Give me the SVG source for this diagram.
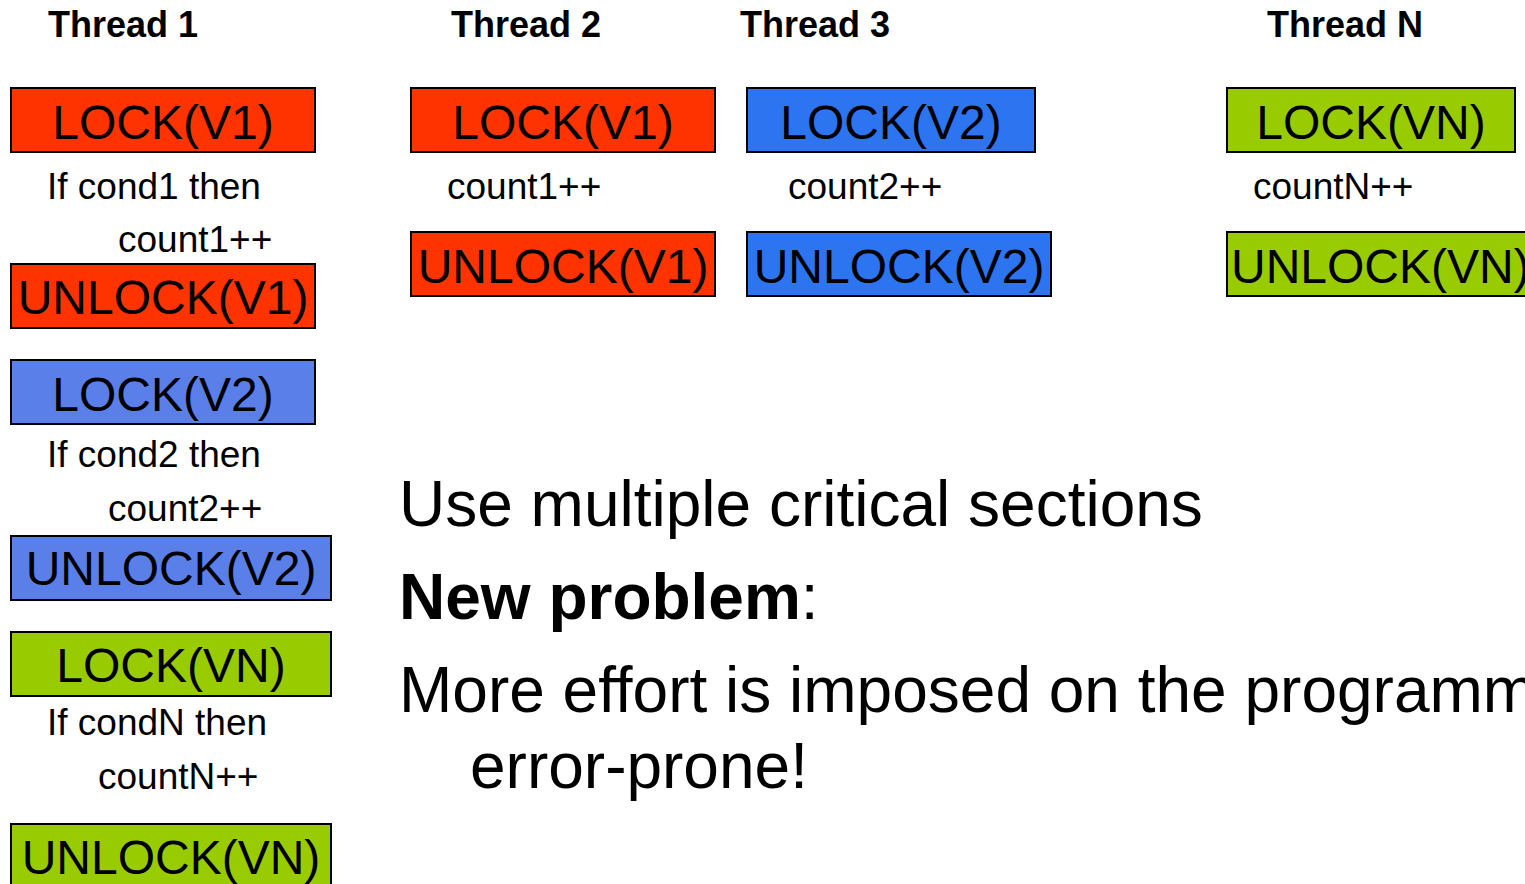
<svg xmlns="http://www.w3.org/2000/svg" width="1525" height="884" viewBox="0 0 1525 884">
<style>
  .box { stroke: #000; stroke-width: 2; }
  .red { fill: #FF3300; }
  .blue1 { fill: #5B7FE8; }
  .blue2 { fill: #2D74F0; }
  .green { fill: #99CC00; }
  .bt { font-family: "Liberation Sans", Arial, sans-serif; font-size: 48px; fill: #000; }
  .st { font-family: "Liberation Sans", Arial, sans-serif; font-size: 37px; fill: #000; }
  .title { font-family: "Liberation Sans", Arial, sans-serif; font-size: 36px; font-weight: bold; fill: #000; }
  .big { font-family: "Liberation Sans", Arial, sans-serif; font-size: 64px; fill: #000; }
</style>
<rect width="1525" height="884" fill="#fff"/>

<g id="titles">
  <text class="title" x="48" y="37">Thread 1</text>
  <text class="title" x="451" y="37">Thread 2</text>
  <text class="title" x="740" y="37">Thread 3</text>
  <text class="title" x="1267" y="37">Thread N</text>
</g>

<g id="t1-lock-v1"><rect class="box red" x="11" y="88" width="304" height="64"/><text class="bt" x="163" y="139" text-anchor="middle">LOCK(V1)</text></g>
<g id="t1-body1"><text class="st" x="47" y="199">If cond1 then</text><text class="st" x="118" y="252">count1++</text></g>
<g id="t1-unlock-v1"><rect class="box red" x="11" y="264" width="304" height="64"/><text class="bt" x="163" y="314" text-anchor="middle">UNLOCK(V1)</text></g>

<g id="t1-lock-v2"><rect class="box blue1" x="11" y="360" width="304" height="64"/><text class="bt" x="163" y="411" text-anchor="middle">LOCK(V2)</text></g>
<g id="t1-body2"><text class="st" x="47" y="467">If cond2 then</text><text class="st" x="108" y="521">count2++</text></g>
<g id="t1-unlock-v2"><rect class="box blue1" x="11" y="536" width="320" height="64"/><text class="bt" x="171" y="585" text-anchor="middle">UNLOCK(V2)</text></g>

<g id="t1-lock-vn"><rect class="box green" x="11" y="632" width="320" height="64"/><text class="bt" x="171" y="682" text-anchor="middle">LOCK(VN)</text></g>
<g id="t1-bodyn"><text class="st" x="47" y="735">If condN then</text><text class="st" x="98" y="789">countN++</text></g>
<g id="t1-unlock-vn"><rect class="box green" x="11" y="824" width="320" height="70"/><text class="bt" x="171" y="874" text-anchor="middle">UNLOCK(VN)</text></g>

<g id="t2-lock-v1"><rect class="box red" x="411" y="88" width="304" height="64"/><text class="bt" x="563" y="139" text-anchor="middle">LOCK(V1)</text></g>
<g id="t2-body"><text class="st" x="447" y="199">count1++</text></g>
<g id="t2-unlock-v1"><rect class="box red" x="411" y="232" width="304" height="64"/><text class="bt" x="563" y="283" text-anchor="middle">UNLOCK(V1)</text></g>

<g id="t3-lock-v2"><rect class="box blue2" x="747" y="88" width="288" height="64"/><text class="bt" x="891" y="139" text-anchor="middle">LOCK(V2)</text></g>
<g id="t3-body"><text class="st" x="788" y="199">count2++</text></g>
<g id="t3-unlock-v2"><rect class="box blue2" x="747" y="232" width="304" height="64"/><text class="bt" x="899" y="283" text-anchor="middle">UNLOCK(V2)</text></g>

<g id="tn-lock-vn"><rect class="box green" x="1227" y="88" width="288" height="64"/><text class="bt" x="1371" y="139" text-anchor="middle">LOCK(VN)</text></g>
<g id="tn-body"><text class="st" x="1253" y="199">countN++</text></g>
<g id="tn-unlock-vn"><rect class="box green" x="1227" y="232" width="310" height="64"/><text class="bt" x="1231" y="283">UNLOCK(VN)</text></g>

<g id="connectors"></g>

<g id="notes">
  <text class="big" x="399" y="526">Use multiple critical sections</text>
  <text class="big" x="399" y="619"><tspan font-weight="bold">New problem</tspan>:</text>
  <text class="big" x="399" y="712">More effort is imposed on the programm</text>
  <text class="big" x="470" y="788">error-prone!</text>
</g>
</svg>
